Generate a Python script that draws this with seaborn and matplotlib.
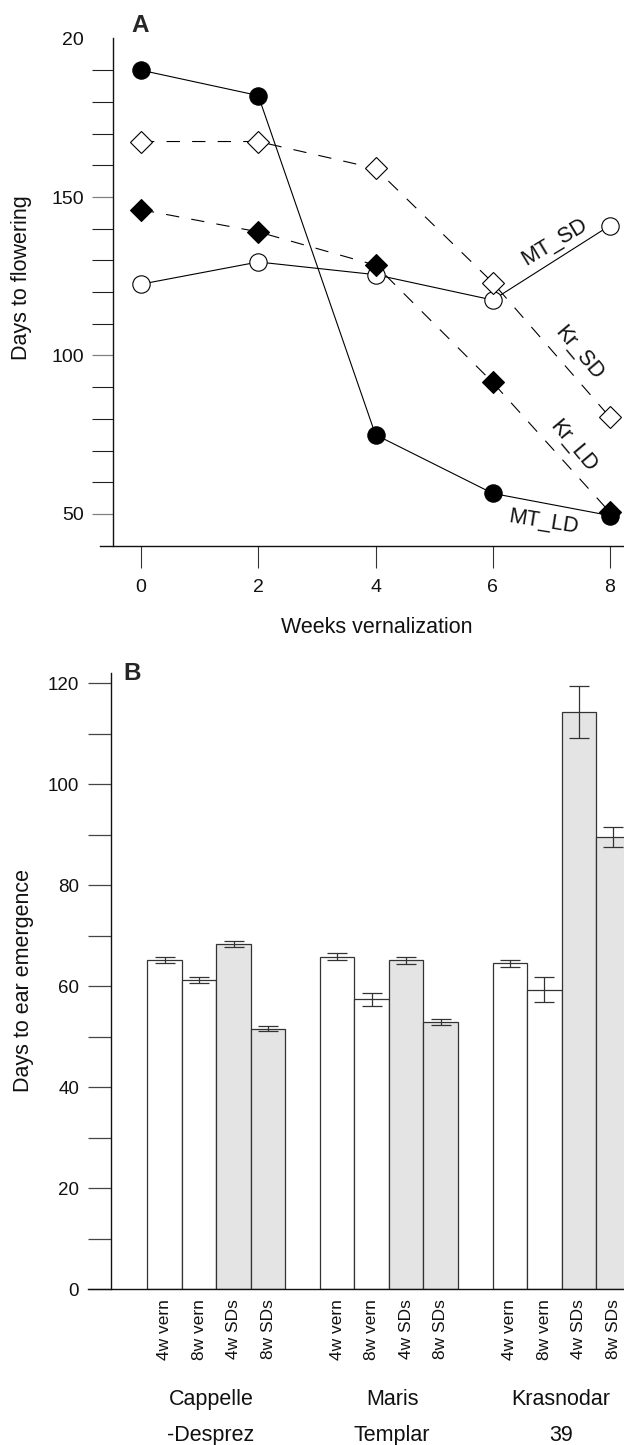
import numpy as np
import pandas as pd
import matplotlib
matplotlib.use('Agg')
import matplotlib.pyplot as plt
import matplotlib.transforms as mtransforms
from matplotlib.ticker import FixedLocator, MultipleLocator
import seaborn as sns

# ---------------- Panel A data ----------------
weeks = [0, 2, 4, 6, 8]
mt_sd = [122.5, 129.5, 125.5, 117.5, 141.0]
mt_ld = [190.0, 182.0, 75.0, 56.5, 49.5]
kr_sd = [167.5, 167.5, 159.0, 123.0, 80.5]
kr_ld = [146.0, 139.0, 128.5, 91.5, 50.5]
series_names = ['MT_SD', 'MT_LD', 'Kr_SD', 'Kr_LD']

a_yticks = [50, 100, 150, 200]
a_yticklabels = ['50', '100', '150', '20']
a_yminor = [60, 70, 80, 90, 110, 120, 130, 140, 160, 170, 180, 190]
a_xticks = [0, 2, 4, 6, 8]

# ---------------- Panel B data ----------------
cultivar_line1 = ['Cappelle', 'Maris', 'Krasnodar']
cultivar_line2 = ['-Desprez', 'Templar', '39']
treatments = ['4w vern', '8w vern', '4w SDs', '8w SDs']
treatment_type = ['vern', 'vern', 'SDs', 'SDs']
ear_means = [[65.1, 61.2, 68.4, 51.6],
             [65.8, 57.4, 65.1, 52.9],
             [64.5, 59.3, 114.2, 89.6]]
ear_errs = [[0.6, 0.65, 0.6, 0.45],
            [0.7, 1.3, 0.65, 0.6],
            [0.6, 2.5, 5.15, 2.0]]
b_yticks = [0, 20, 40, 60, 80, 100, 120]

# ---------------- style ----------------
sns.set_theme(style='ticks')
plt.rcParams['font.family'] = ['Liberation Sans', 'DejaVu Sans']

W, H = 624, 1445
fig = plt.figure(figsize=(W / 100, H / 100), dpi=100)
fig.patch.set_facecolor('white')

def fx(px):
    return px / W

def fy(py):
    return 1 - py / H

# ================= Panel A =================
a_left, a_right, a_top, a_bot = 100, 624, 38.5, 545.7
axA = fig.add_axes([fx(a_left), fy(a_bot), (a_right - a_left) / W, (a_bot - a_top) / H])

dfA = pd.DataFrame({'weeks': weeks * 4,
                    'days': mt_sd + mt_ld + kr_sd + kr_ld,
                    'series': sum([[s] * len(weeks) for s in series_names], [])})

styles = {
    'MT_SD': dict(marker='o', markerfacecolor='white', linestyle='-'),
    'MT_LD': dict(marker='o', markerfacecolor='black', linestyle='-'),
    'Kr_SD': dict(marker='D', markerfacecolor='white', linestyle=(0, (12, 11))),
    'Kr_LD': dict(marker='D', markerfacecolor='black', linestyle=(0, (12, 11))),
}
msize = {'o': 12.5, 'D': 11.5}
for s in series_names:
    st = styles[s]
    sub = dfA[dfA['series'] == s]
    sns.lineplot(data=sub, x='weeks', y='days', ax=axA, color='black',
                 linewidth=0.8, errorbar=None,
                 marker=st['marker'], markersize=msize[st['marker']],
                 markerfacecolor=st['markerfacecolor'], markeredgecolor='black',
                 markeredgewidth=0.8, linestyle=st['linestyle'], clip_on=False)

axA.set_xlim(-0.6994, 8.2388)
axA.set_ylim(40, 200)
axA.spines['top'].set_visible(False)
axA.spines['right'].set_visible(False)
axA.spines['left'].set_position(('data', -0.4776))
for sp in ['left', 'bottom']:
    axA.spines[sp].set_linewidth(1.0)
    axA.spines[sp].set_color('#111111')

axA.set_xticks(a_xticks)
axA.set_xticklabels([str(w) for w in a_xticks])
axA.set_yticks(a_yticks)
axA.set_yticklabels(a_yticklabels)
axA.yaxis.set_minor_locator(FixedLocator(a_yminor))
axA.tick_params(axis='x', which='major', direction='out', length=15.8, width=0.8,
                color='#333333', pad=8, labelsize=14, labelcolor='#111111')
axA.tick_params(axis='y', which='major', direction='out', length=15, width=0.9,
                color='#808080', pad=5.8, labelsize=14, labelcolor='#111111')
axA.tick_params(axis='y', which='minor', direction='out', length=15, width=0.8,
                color='#222222')
axA.yaxis.get_major_ticks()[-1].tick1line.set_visible(False)

axA.set_xlabel('Weeks vernalization', fontsize=15.5, color='#111111')
axA.xaxis.set_label_coords((377 - a_left) / (a_right - a_left), (a_bot - 617) / (a_bot - a_top))
axA.set_ylabel('Days to flowering', fontsize=15.5, color='#111111')
axA.yaxis.set_label_coords((32 - a_left) / (a_right - a_left), (a_bot - 278) / (a_bot - a_top))

# inline series labels (text positions in data coordinates)
label_pos = {'MT_SD': (7.045, 136.0, 31), 'Kr_SD': (7.47, 100.8, -50),
             'Kr_LD': (7.37, 71.3, -50), 'MT_LD': (6.87, 47.6, -9)}
for s in series_names:
    x, y, r = label_pos[s]
    axA.text(x, y, s, fontsize=15.5, rotation=r, rotation_mode='anchor',
             ha='center', va='center', color='#111111')

fig.text(fx(131), fy(32), 'A', fontsize=17.5, fontweight='bold', ha='left', va='baseline')

# ================= Panel B =================
b_left, b_right, b_top, b_bot = 88, 624, 673, 1289.3
axB = fig.add_axes([fx(b_left), fy(b_bot), (b_right - b_left) / W, (b_bot - b_top) / H])

rows, order = [], []
for gi, c1 in enumerate(cultivar_line1):
    if gi > 0:
        order.append(f'gap{gi}')
    for ti, t in enumerate(treatments):
        key = f'{c1}|{t}'
        order.append(key)
        rows.append(dict(key=key, days=ear_means[gi][ti], err=ear_errs[gi][ti],
                         kind=treatment_type[ti], label=t))
dfB = pd.DataFrame(rows)

sns.barplot(data=dfB, x='key', y='days', hue='kind', order=order,
            hue_order=['vern', 'SDs'], palette={'vern': 'white', 'SDs': '#e4e4e4'},
            dodge=False, width=1.0, errorbar=None, edgecolor='#333333',
            linewidth=0.9, legend=False, ax=axB)

pos = [order.index(k) for k in dfB['key']]
axB.errorbar(pos, dfB['days'], yerr=dfB['err'], fmt='none', ecolor='#333333',
             elinewidth=0.9, capsize=7.2, capthick=0.9, zorder=5)

slot = 34.53
x0px = 164.5
axB.set_xlim((b_left - x0px) / slot, (b_right - x0px) / slot)
axB.set_ylim(0, 122)
axB.spines['top'].set_visible(False)
axB.spines['right'].set_visible(False)
axB.spines['left'].set_position(('data', (111 - x0px) / slot))
for sp in ['left', 'bottom']:
    axB.spines[sp].set_linewidth(1.0)
    axB.spines[sp].set_color('#111111')

axB.set_xticks(pos)
axB.set_xticklabels(dfB['label'], rotation=90)
axB.tick_params(axis='x', which='major', length=0, pad=7, labelsize=12.5, labelcolor='#111111')
axB.set_yticks(b_yticks)
axB.set_yticklabels([str(v) for v in b_yticks])
axB.yaxis.set_minor_locator(MultipleLocator(10))
axB.tick_params(axis='y', which='both', direction='out', length=16.5, width=0.9,
                color='#444444', pad=6.5, labelsize=13.5, labelcolor='#111111')
axB.set_xlabel('')
axB.set_ylabel('Days to ear emergence', fontsize=15.5, color='#111111')
axB.yaxis.set_label_coords((34 - b_left) / (b_right - b_left), (b_bot - 980) / (b_bot - b_top))

# cultivar names under the groups
group_x = [1.35, 6.59, 11.48]
tr = mtransforms.blended_transform_factory(axB.transData, fig.transFigure)
for gx, l1, l2 in zip(group_x, cultivar_line1, cultivar_line2):
    fig.text(gx, fy(1405), l1, transform=tr, fontsize=15.5, ha='center', va='baseline', color='#111111')
    fig.text(gx, fy(1441), l2, transform=tr, fontsize=15.5, ha='center', va='baseline', color='#111111')

fig.text(fx(123), fy(680), 'B', fontsize=17.5, fontweight='bold', ha='left', va='baseline')

fig.savefig('out.png', dpi=100, facecolor='white')
